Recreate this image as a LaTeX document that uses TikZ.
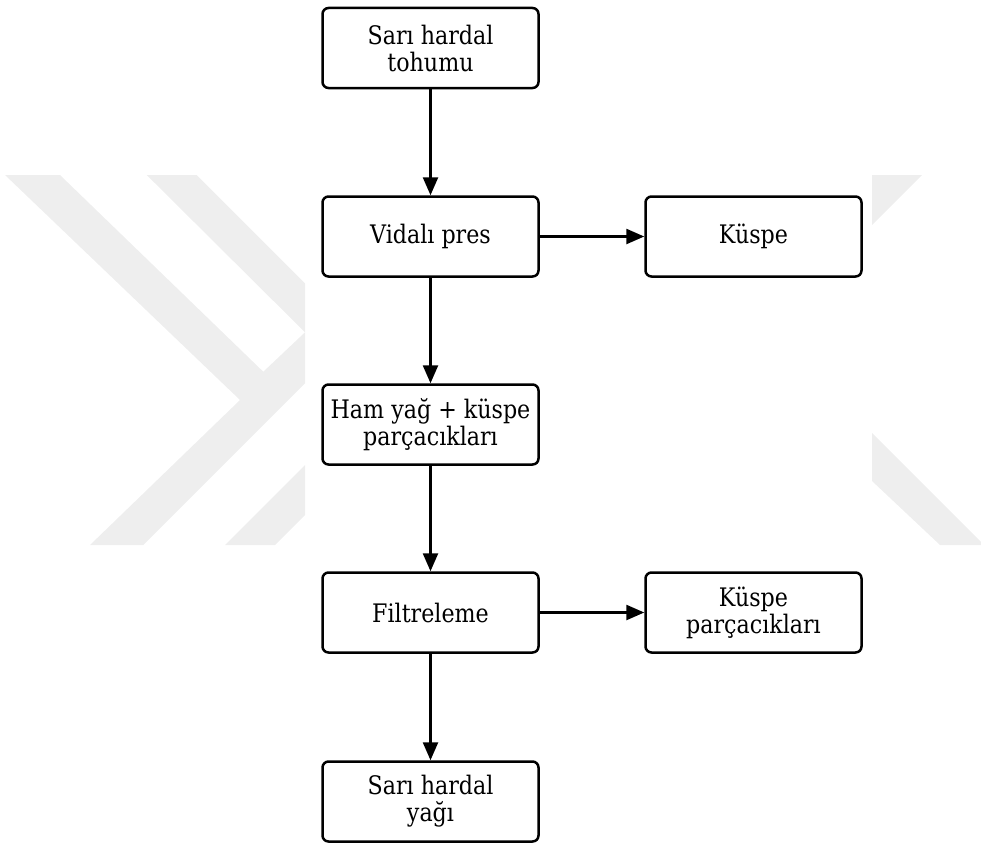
\documentclass[tikz,border=0pt]{standalone}
\usepackage{fontspec}
\setmainfont[FakeStretch=0.87]{DejaVu Serif}
\usetikzlibrary{arrows.meta}
\definecolor{wm}{RGB}{238,238,238}
\begin{document}
\begin{tikzpicture}[x=1pt,y=-1pt,
  box/.style={draw=black, line width=2.5pt, rounded corners=6pt, minimum width=216pt, minimum height=80pt, align=center, inner sep=0pt, font=\fontsize{25.5pt}{27pt}\selectfont, fill=white},
  conn/.style={line width=2.5pt, -{Triangle[length=18pt,width=15pt]}},
  wmfill/.style={fill=wm, draw=none}]
\useasboundingbox (0,0) rectangle (981,843);
% watermark
\fill[wmfill] (5,175) -- (60,175) -- (263.3,371.7) -- (305,332.3) -- (146.7,175) -- (196.7,175) -- (305,283.3) -- (305,383.3) -- (143.3,545) -- (90,545) -- (240,400) -- cycle;
\fill[wmfill] (225,545) -- (275,545) -- (305,515) -- (305,465) -- cycle;
\fill[wmfill] (872,175) -- (922,175) -- (872,225) -- cycle;
\fill[wmfill] (872,433) -- (981,542) -- (981,545) -- (940,545) -- (872,481) -- cycle;
% nodes
\node[box] (seed) at (430.5,48) {Sarı hardal\\tohumu};
\node[box] (press) at (430.5,236.5) {Vidalı pres};
\node[box] (kuspe) at (753.5,236.5) {Küspe};
\node[box] (ham) at (430.5,424.5) {Ham yağ + küspe\\parçacıkları};
\node[box] (filt) at (430.5,612.5) {Filtreleme};
\node[box] (kpar) at (753.5,612.5) {Küspe\\parçacıkları};
\node[box] (oil) at (430.5,801.5) {Sarı hardal\\yağı};
% connectors
\draw[conn] (seed) -- (press);
\draw[conn] (press) -- (kuspe);
\draw[conn] (press) -- (ham);
\draw[conn] (ham) -- (filt);
\draw[conn] (filt) -- (kpar);
\draw[conn] (filt) -- (oil);
\end{tikzpicture}
\end{document}
